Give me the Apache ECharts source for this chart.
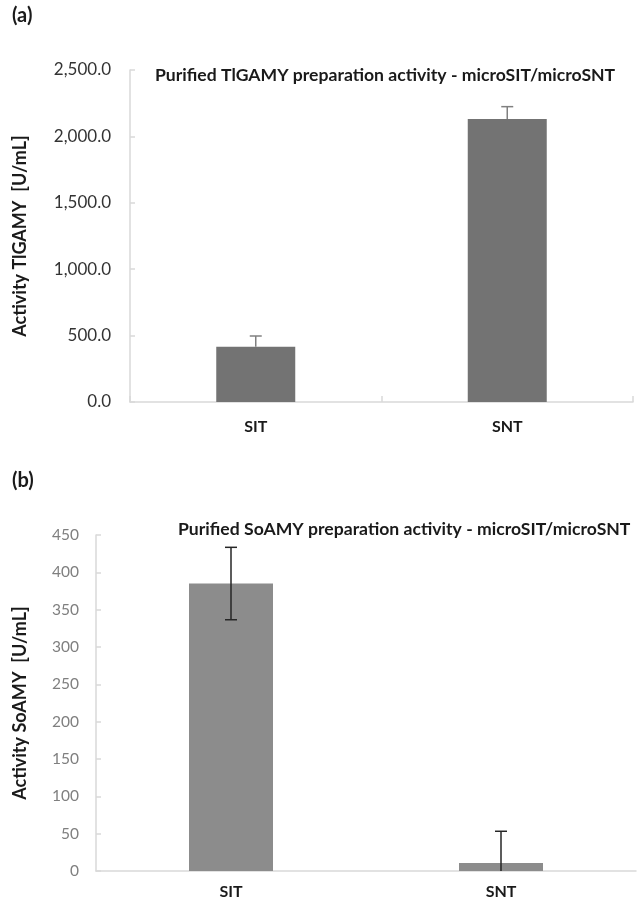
<!DOCTYPE html>
<html>
<head>
<meta charset="utf-8">
<script src="https://cdn.jsdelivr.net/npm/echarts@6/dist/echarts.min.js"></script>
<style>
html,body{margin:0;padding:0;background:#fff;}
#chart{width:638px;height:902px;}
</style>
</head>
<body>
<div id="chart"></div>
<script>
// ---- data ----
const categories = ['SIT', 'SNT'];
const tlgamyActivity = [416, 2131];
const tlgamyErrorPlus = [81, 93];
const soamyActivity = [385, 10.7];
const soamyError = [48.5, 42.5];
const tlgamyTicks = { min: 0, max: 2500, interval: 500 };
const soamyTicks = { min: 0, max: 450, interval: 50 };
const titleA = 'Purified TlGAMY preparation activity - microSIT/microSNT';
const titleB = 'Purified SoAMY preparation activity - microSIT/microSNT';
const yNameA = 'Activity TlGAMY  [U/mL]';
const yNameB = 'Activity SoAMY  [U/mL]';

const FONT = 'Lato';
const chart = echarts.init(document.getElementById('chart'), null, {renderer: 'canvas'});

function errorSeries(gridIdx, values, plus, minus, color, capW, axisMin) {
  return {
    type: 'custom',
    xAxisIndex: gridIdx, yAxisIndex: gridIdx,
    z: 10,
    silent: true,
    data: values.map((v, i) => [i, v, v + plus[i], minus ? Math.max(axisMin, v - minus[i]) : v]),
    renderItem: function (params, api) {
      const top = api.coord([api.value(0), api.value(2)]);
      const bot = api.coord([api.value(0), api.value(3)]);
      const st = {stroke: color, lineWidth: 1.5};
      const children = [
        {type: 'line', shape: {x1: top[0], y1: top[1], x2: bot[0], y2: bot[1]}, style: st},
        {type: 'line', shape: {x1: top[0] - capW / 2, y1: top[1], x2: top[0] + capW / 2, y2: top[1]}, style: st}
      ];
      if (minus && api.value(3) > axisMin) {
        children.push({type: 'line', shape: {x1: bot[0] - capW / 2, y1: bot[1], x2: bot[0] + capW / 2, y2: bot[1]}, style: st});
      }
      return {type: 'group', children: children};
    }
  };
}

const axisLineStyle = {color: '#d9d9d9', width: 1.5};

chart.setOption({
  animation: false,
  backgroundColor: '#fff',
  textStyle: {fontFamily: FONT},
  grid: [
    {left: 130, right: 5, top: 70, height: 332},
    {left: 96, right: 2, top: 535, height: 336}
  ],
  xAxis: [
    {
      type: 'category', gridIndex: 0, data: categories,
      axisLine: {lineStyle: axisLineStyle},
      axisTick: {show: true, inside: true, length: 6, lineStyle: axisLineStyle},
      axisLabel: {color: '#1a1a1a', fontWeight: 'bold', fontSize: 16, fontFamily: FONT, margin: 17}
    },
    {
      type: 'category', gridIndex: 1, data: categories,
      axisLine: {lineStyle: axisLineStyle},
      axisTick: {show: false},
      axisLabel: {color: '#1a1a1a', fontWeight: 'bold', fontSize: 16, fontFamily: FONT, margin: 13}
    }
  ],
  yAxis: [
    {
      type: 'value', gridIndex: 0,
      min: tlgamyTicks.min, max: tlgamyTicks.max, interval: tlgamyTicks.interval,
      splitLine: {show: false},
      axisLine: {show: true, lineStyle: axisLineStyle},
      axisTick: {show: true, inside: true, length: 5, lineStyle: axisLineStyle},
      axisLabel: {
        color: '#333', fontSize: 17, fontFamily: FONT, margin: 19,
        formatter: v => v.toLocaleString('en-US', {minimumFractionDigits: 1, maximumFractionDigits: 1})
      }
    },
    {
      type: 'value', gridIndex: 1,
      min: soamyTicks.min, max: soamyTicks.max, interval: soamyTicks.interval,
      splitLine: {show: false},
      axisLine: {show: true, lineStyle: axisLineStyle},
      axisTick: {show: true, inside: true, length: 5, lineStyle: axisLineStyle},
      axisLabel: {color: '#7f7f7f', fontSize: 15.5, fontFamily: FONT, margin: 17}
    }
  ],
  series: [
    {
      type: 'bar', xAxisIndex: 0, yAxisIndex: 0, data: tlgamyActivity,
      barWidth: 79, itemStyle: {color: '#737373'}
    },
    errorSeries(0, tlgamyActivity, tlgamyErrorPlus, null, '#808080', 12, tlgamyTicks.min),
    {
      type: 'bar', xAxisIndex: 1, yAxisIndex: 1, data: soamyActivity,
      barWidth: 84, itemStyle: {color: '#8c8c8c'}
    },
    errorSeries(1, soamyActivity, soamyError, soamyError, '#262626', 12, soamyTicks.min)
  ],
  graphic: [
    {type: 'text', left: 12, top: 6, style: {text: '(a)', font: 'bold 20px ' + FONT, fill: '#1a1a1a'}},
    {type: 'text', left: 12, top: 471, style: {text: '(b)', font: 'bold 20px ' + FONT, fill: '#1a1a1a'}},
    {type: 'text', x: 155, y: 75, style: {text: titleA, font: 'bold 17.6px ' + FONT, fill: '#1a1a1a', verticalAlign: 'middle'}},
    {type: 'text', x: 178, y: 529, style: {text: titleB, font: 'bold 17.6px ' + FONT, fill: '#1a1a1a', verticalAlign: 'middle'}},
    {type: 'text', x: 20, y: 236, rotation: Math.PI / 2, style: {text: yNameA, font: 'bold 18px ' + FONT, fill: '#1a1a1a', align: 'center', verticalAlign: 'middle'}},
    {type: 'text', x: 20, y: 703, rotation: Math.PI / 2, style: {text: yNameB, font: 'bold 18px ' + FONT, fill: '#1a1a1a', align: 'center', verticalAlign: 'middle'}}
  ]
});
</script>
</body>
</html>
